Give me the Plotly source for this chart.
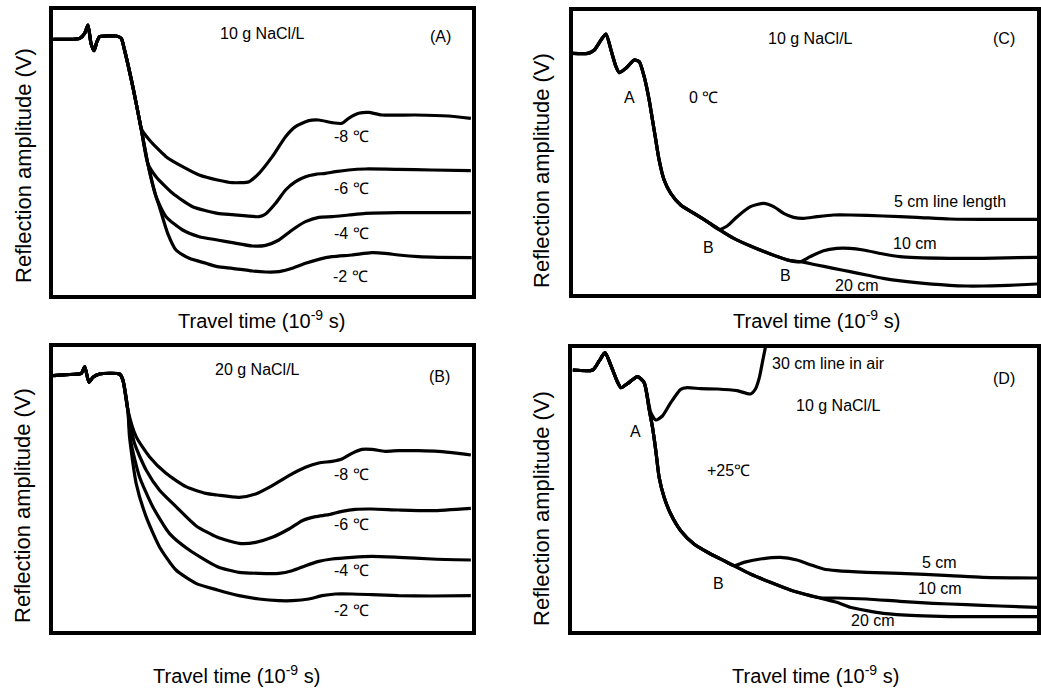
import plotly.graph_objects as go

W, H = 1041, 688

# ---------------- data (arbitrary units) ----------------
# Panel A : 10 g NaCl/L
A_common_t = [160, 200, 240, 255, 265, 274, 283, 292, 300, 320, 350, 365, 375, 400, 420]
A_common_v = [782, 782, 785, 800, 825, 770, 748, 775, 790, 792, 792, 785, 750, 640, 540]
A_m8_t = [425, 450, 500, 550, 600, 655, 700, 750, 780, 820, 860, 890, 930, 960, 1000, 1030, 1050, 1080, 1110, 1150, 1250, 1350, 1418]
A_m8_v = [515, 480, 430, 400, 375, 360, 352, 355, 380, 430, 490, 520, 538, 540, 532, 530, 545, 560, 563, 555, 555, 552, 545]
A_m6_t = [425, 445, 470, 520, 580, 655, 700, 780, 800, 830, 860, 890, 920, 950, 980, 1010, 1050, 1100, 1200, 1300, 1418]
A_m6_v = [515, 410, 370, 320, 280, 260, 256, 250, 258, 290, 330, 355, 370, 377, 380, 385, 390, 393, 392, 390, 388]
A_m4_t = [425, 445, 470, 500, 550, 600, 655, 700, 760, 800, 840, 880, 920, 960, 1000, 1050, 1100, 1200, 1300, 1418]
A_m4_v = [515, 410, 310, 250, 210, 190, 180, 172, 162, 164, 180, 210, 235, 248, 250, 255, 260, 262, 262, 262]
A_m2_t = [425, 445, 470, 480, 505, 530, 570, 620, 655, 700, 760, 800, 840, 880, 920, 960, 1000, 1060, 1120, 1160, 1200, 1260, 1320, 1430]
A_m2_v = [515, 410, 310, 280, 200, 150, 125, 110, 100, 95, 87, 84, 85, 95, 110, 122, 130, 135, 142, 140, 135, 130, 128, 127]

# Panel B : 20 g NaCl/L
B_common_t = [160, 200, 245, 255, 268, 280, 300, 360, 370, 385]
B_common_v = [805, 808, 812, 832, 785, 800, 810, 810, 792, 702]
B_m8_t = [410, 450, 500, 560, 620, 655, 720, 770, 820, 870, 920, 960, 1000, 1030, 1060, 1090, 1120, 1160, 1200, 1260, 1320, 1380, 1418]
B_m8_v = [622, 562, 512, 472, 452, 447, 440, 450, 475, 505, 530, 543, 548, 555, 572, 584, 584, 578, 580, 580, 578, 572, 567]
B_m6_t = [405, 440, 480, 530, 590, 655, 720, 770, 820, 870, 910, 950, 990, 1030, 1070, 1120, 1200, 1300, 1418]
B_m6_v = [602, 522, 462, 412, 355, 320, 302, 305, 320, 345, 370, 382, 388, 398, 404, 405, 402, 400, 407]
B_m4_t = [395, 420, 460, 510, 570, 655, 720, 780, 840, 880, 920, 960, 1000, 1060, 1120, 1200, 1300, 1418]
B_m4_v = [602, 502, 412, 332, 282, 232, 215, 212, 212, 220, 235, 248, 255, 260, 263, 260, 255, 252]
B_m2_t = [390, 410, 440, 480, 530, 590, 655, 720, 780, 840, 880, 930, 970, 1010, 1060, 1120, 1200, 1300, 1418]
B_m2_v = [622, 482, 382, 292, 222, 182, 162, 145, 135, 130, 130, 135, 145, 150, 150, 148, 145, 144, 145]

# Panel C : 10 g NaCl/L, 0 C, line lengths
C_common_t = [165, 210, 230, 250, 265, 280, 295, 305, 325, 350, 365, 380, 395, 405, 415, 425, 440, 460, 490, 530, 570, 605]
C_common_v = [740, 740, 750, 780, 798, 750, 700, 682, 695, 720, 715, 670, 600, 540, 480, 420, 360, 320, 285, 260, 235, 212]
C_5_t = [630, 660, 700, 740, 770, 800, 830, 860, 900, 950, 1000, 1100, 1200, 1300, 1400, 1563]
C_5_v = [222, 250, 280, 290, 280, 260, 248, 245, 250, 255, 255, 252, 248, 243, 242, 242]
C_main_t = [650, 700, 760, 820, 850]
C_main_v = [185, 162, 138, 118, 115]
C_10_t = [880, 920, 960, 1000, 1040, 1100, 1150, 1200, 1300, 1400, 1563]
C_10_v = [130, 148, 155, 155, 150, 138, 130, 127, 125, 125, 128]
C_20_t = [900, 950, 1000, 1050, 1100, 1200, 1300, 1350, 1400, 1450, 1500, 1563]
C_20_v = [105, 95, 85, 75, 65, 52, 44, 42, 42, 43, 45, 48]

# Panel D : +25 C, line lengths and 30 cm line in air
D_common_t = [165, 225, 245, 262, 280, 300, 310, 335, 360, 380]
D_common_v = [822, 822, 850, 874, 835, 785, 769, 785, 802, 784]
D_air_t = [400, 415, 435, 460, 490, 510, 550, 600, 660, 700, 715, 727, 737, 747, 757]
D_air_v = [694, 672, 684, 724, 764, 769, 766, 765, 760, 750, 765, 800, 850, 900, 950]
D_main_t = [395, 405, 415, 425, 440, 460, 490, 530, 580, 620, 650]
D_main_v = [704, 650, 580, 500, 440, 390, 340, 300, 270, 250, 235]
D_5_t = [680, 730, 790, 840, 880, 920, 960, 1050, 1150, 1300, 1400, 1563]
D_5_v = [245, 255, 260, 252, 238, 225, 220, 215, 212, 205, 200, 198]
D_main2_t = [700, 760, 820, 880, 910]
D_main2_v = [210, 185, 162, 145, 138]
D_10_t = [960, 1050, 1150, 1250, 1350, 1450, 1563]
D_10_v = [138, 135, 128, 122, 118, 114, 110]
D_20_t = [960, 1000, 1050, 1100, 1200, 1300, 1400, 1563]
D_20_v = [125, 110, 100, 92, 85, 82, 82, 82]

# ---------------- layout geometry (pixels) ----------------
panels = {
    "A": dict(box=(53.5, 473.5, 9.5, 294.5), org=(0, 0), ax=("x", "y")),
    "C": dict(box=(575.0, 1041.0, 11.0, 294.0), org=(520, 0), ax=("x2", "y2")),
    "B": dict(box=(53.5, 473.5, 347.0, 631.0), org=(0, 344), ax=("x3", "y3")),
    "D": dict(box=(574.5, 1041.0, 347.5, 631.0), org=(520, 344), ax=("x4", "y4")),
}

fig = go.Figure()
LINE = dict(color="black", width=3.2, shape="spline", smoothing=0.6)


def add(panel, t, v):
    xa, ya = panels[panel]["ax"]
    fig.add_trace(go.Scatter(x=t, y=v, mode="lines", line=LINE, xaxis=xa, yaxis=ya,
                             hoverinfo="skip", showlegend=False))


add("A", A_common_t + A_m8_t, A_common_v + A_m8_v)
add("A", A_common_t + A_m6_t, A_common_v + A_m6_v)
add("A", A_common_t + A_m4_t, A_common_v + A_m4_v)
add("A", A_common_t + A_m2_t, A_common_v + A_m2_v)

add("B", B_common_t + B_m8_t, B_common_v + B_m8_v)
add("B", B_common_t + B_m6_t, B_common_v + B_m6_v)
add("B", B_common_t + B_m4_t, B_common_v + B_m4_v)
add("B", B_common_t + B_m2_t, B_common_v + B_m2_v)

add("C", C_common_t + C_5_t, C_common_v + C_5_v)
add("C", C_common_t + C_main_t + C_10_t, C_common_v + C_main_v + C_10_v)
add("C", C_common_t + C_main_t + C_20_t, C_common_v + C_main_v + C_20_v)

add("D", D_common_t + D_air_t, D_common_v + D_air_v)
add("D", D_common_t + D_main_t + D_5_t, D_common_v + D_main_v + D_5_v)
add("D", D_common_t + D_main_t + D_main2_t + D_10_t, D_common_v + D_main_v + D_main2_v + D_10_v)
add("D", D_common_t + D_main_t + D_main2_t + D_20_t, D_common_v + D_main_v + D_main2_v + D_20_v)

FONT = "Liberation Sans, Arial, sans-serif"

layout = dict(width=W, height=H, margin=dict(l=0, r=0, t=0, b=0),
              paper_bgcolor="white", plot_bgcolor="white", showlegend=False)

for name, p in panels.items():
    l, r, t, b = p["box"]
    ox, oy = p["org"]
    xa, ya = p["ax"]
    xkey = "xaxis" + xa[1:]
    ykey = "yaxis" + ya[1:]
    axis_common = dict(showgrid=False, zeroline=False, showticklabels=False, ticks="",
                       showline=True, linecolor="black", linewidth=3.5, mirror=True, fixedrange=True)
    layout[xkey] = dict(domain=[l / W, min(r / W, 1.0)], anchor=ya,
                        range=[3 * (l - ox), 3 * (r - ox)], **axis_common)
    layout[ykey] = dict(domain=[1 - b / H, 1 - t / H], anchor=xa,
                        range=[900 - 3 * (b - oy), 900 - 3 * (t - oy)], **axis_common)

fig.update_layout(**layout)

# ---------------- annotations inside panels ----------------
labels = {
    "A": [("10 g NaCl/L", 790, 800), ("(A)", 1328, 790), ("-8 ℃", 1060, 490), ("-6 ℃", 1058, 335),
          ("-4 ℃", 1058, 200), ("-2 ℃", 1055, 72)],
    "B": [("20 g NaCl/L", 775, 825), ("(B)", 1325, 802), ("-8 ℃", 1060, 510), ("-6 ℃", 1058, 360),
          ("-4 ℃", 1058, 220), ("-2 ℃", 1058, 100)],
    "C": [("10 g NaCl/L", 880, 785), ("(C)", 1465, 785), ("A", 335, 607), ("0 ℃", 560, 607),
          ("5 cm line length", 1300, 295), ("B", 575, 157), ("10 cm", 1195, 170), ("B", 805, 73),
          ("20 cm", 1022, 45)],
    "D": [("30 cm line in air", 935, 840), ("(D)", 1465, 795), ("10 g NaCl/L", 965, 715), ("A", 355, 638),
          ("+25℃", 635, 520), ("5 cm", 1270, 245), ("B", 605, 183), ("10 cm", 1270, 168), ("20 cm", 1070, 70)],
}
for name, items in labels.items():
    xa, ya = panels[name]["ax"]
    for txt, tx, ty in items:
        fig.add_annotation(x=tx, y=ty, xref=xa, yref=ya, text=txt, showarrow=False,
                           font=dict(family=FONT, size=16, color="black"),
                           xanchor="center", yanchor="middle")

# axis titles (placed in page pixels)
ytitles = [(23, 165), (543, 170), (22, 505), (543, 508)]
xtitles = [(263, 320), (820, 320), (237, 674), (819, 674)]
for px, py in ytitles:
    fig.add_annotation(x=px / W, y=1 - py / H, xref="paper", yref="paper",
                       text="Reflection amplitude (V)", textangle=-90, showarrow=False,
                       font=dict(family=FONT, size=22, color="black"), xanchor="center", yanchor="middle")
for px, py in xtitles:
    fig.add_annotation(x=px / W, y=1 - py / H, xref="paper", yref="paper",
                       text="Travel time (10<sup>-9</sup> s)", showarrow=False,
                       font=dict(family=FONT, size=20, color="black"), xanchor="center", yanchor="middle")

fig.write_html("out.html")
